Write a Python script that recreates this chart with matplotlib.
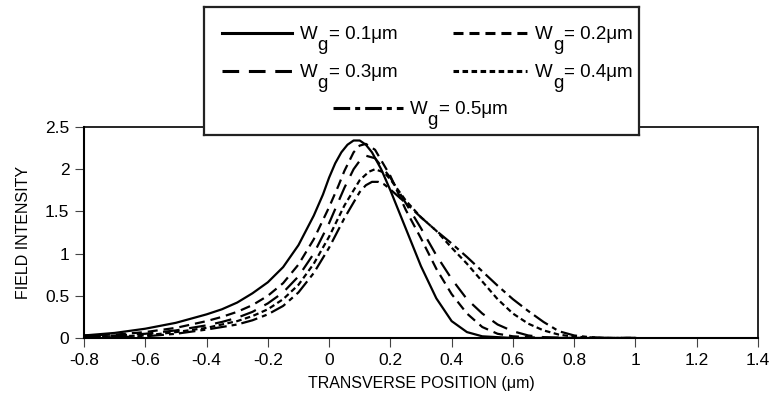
import matplotlib
matplotlib.use("Agg")
import matplotlib.pyplot as plt
from matplotlib.lines import Line2D

plt.rcParams['font.family'] = ['Liberation Sans', 'DejaVu Sans']
plt.rcParams['axes.unicode_minus'] = False
plt.rcParams['lines.scale_dashes'] = False

# ---- data ----
x01 = [-0.8, -0.7, -0.6, -0.5, -0.4, -0.35, -0.3, -0.25, -0.2, -0.15, -0.1, -0.05, -0.02, 0.0, 0.02, 0.04,
       0.06, 0.08, 0.1, 0.12, 0.14, 0.17, 0.2, 0.25, 0.3, 0.35, 0.4, 0.45, 0.5, 0.6, 0.8, 1.0]
y01 = [0.03, 0.06, 0.11, 0.18, 0.28, 0.34, 0.42, 0.53, 0.66, 0.84, 1.1, 1.45, 1.7, 1.9, 2.07, 2.2,
       2.29, 2.34, 2.34, 2.29, 2.2, 2.0, 1.75, 1.3, 0.85, 0.47, 0.2, 0.07, 0.02, 0.0, 0.0, 0.0]

x02 = [-0.8, -0.7, -0.6, -0.5, -0.4, -0.35, -0.3, -0.25, -0.2, -0.15, -0.1, -0.05, 0.0, 0.03, 0.05, 0.08,
       0.1, 0.12, 0.15, 0.2, 0.25, 0.3, 0.35, 0.4, 0.45, 0.5, 0.55, 0.6, 0.7, 1.0]
y02 = [0.03, 0.04, 0.07, 0.12, 0.2, 0.25, 0.31, 0.39, 0.5, 0.65, 0.87, 1.17, 1.55, 1.8, 1.98, 2.2,
       2.28, 2.3, 2.23, 1.92, 1.52, 1.18, 0.82, 0.52, 0.29, 0.13, 0.05, 0.02, 0.0, 0.0]

x03 = [-0.8, -0.7, -0.6, -0.5, -0.4, -0.35, -0.3, -0.25, -0.2, -0.15, -0.1, -0.05, 0.0, 0.05, 0.08, 0.1,
       0.12, 0.15, 0.2, 0.25, 0.3, 0.35, 0.4, 0.45, 0.5, 0.55, 0.6, 0.65, 0.7, 0.8, 1.0]
y03 = [0.02, 0.03, 0.05, 0.09, 0.15, 0.19, 0.24, 0.31, 0.41, 0.54, 0.73, 1.0, 1.36, 1.78, 2.0, 2.1,
       2.16, 2.13, 1.9, 1.6, 1.3, 0.98, 0.7, 0.46, 0.29, 0.16, 0.08, 0.03, 0.01, 0.0, 0.0]

x04 = [-0.8, -0.7, -0.6, -0.5, -0.4, -0.35, -0.3, -0.25, -0.2, -0.15, -0.1, -0.05, 0.0, 0.05, 0.1, 0.13,
       0.15, 0.18, 0.2, 0.25, 0.3, 0.35, 0.4, 0.45, 0.5, 0.55, 0.6, 0.65, 0.7, 0.75, 0.8, 0.9, 1.0]
y04 = [0.01, 0.02, 0.03, 0.07, 0.12, 0.16, 0.2, 0.26, 0.34, 0.46, 0.63, 0.88, 1.2, 1.57, 1.87, 1.97,
       2.0, 1.96, 1.88, 1.63, 1.43, 1.27, 1.07, 0.88, 0.67, 0.46, 0.29, 0.17, 0.09, 0.04, 0.015, 0.0, 0.0]

x05 = [-0.8, -0.7, -0.6, -0.5, -0.4, -0.35, -0.3, -0.25, -0.2, -0.15, -0.1, -0.05, 0.0, 0.05, 0.1, 0.12,
       0.14, 0.16, 0.18, 0.2, 0.25, 0.3, 0.35, 0.4, 0.45, 0.5, 0.55, 0.6, 0.65, 0.7, 0.75, 0.8, 0.85, 0.9, 1.0]
y05 = [0.01, 0.01, 0.02, 0.05, 0.1, 0.13, 0.16, 0.21, 0.28, 0.38, 0.54, 0.77, 1.07, 1.42, 1.73, 1.81,
       1.85, 1.85, 1.82, 1.76, 1.6, 1.43, 1.27, 1.12, 0.96, 0.79, 0.62, 0.46, 0.32, 0.19, 0.08, 0.03, 0.01, 0.0, 0.0]

labels = ['0.1', '0.2', '0.3', '0.4', '0.5']
xticks = [-0.8, -0.6, -0.4, -0.2, 0, 0.2, 0.4, 0.6, 0.8, 1, 1.2, 1.4]
xticklabels = ['-0.8', '-0.6', '-0.4', '-0.2', '0', '0.2', '0.4', '0.6', '0.8', '1', '1.2', '1.4']
yticks = [0, 0.5, 1, 1.5, 2, 2.5]
yticklabels = ['0', '0.5', '1', '1.5', '2', '2.5']

# dash patterns (points)
styles = [
    dict(linestyle='-'),
    dict(linestyle=(0, (7.2, 4.3))),
    dict(linestyle=(0, (12.0, 7.0))),
    dict(linestyle=(0, (4.0, 2.5))),
    dict(linestyle=(0, (12.0, 3.6, 3.6, 3.6))),
]

W, H = 773, 408
fig = plt.figure(figsize=(W / 100, H / 100), dpi=100)

L, R, T, B = 84, 758, 127, 338
ax = fig.add_axes([L / W, 1 - B / H, (R - L) / W, (B - T) / H])

series = [(x01, y01), (x02, y02), (x03, y03), (x04, y04), (x05, y05)]
for (xs, ys), st in zip(series, styles):
    ax.plot(xs, ys, color='black', lw=1.6, **st)

ax.set_xlim(-0.8, 1.4)
ax.set_ylim(0, 2.5)
ax.set_xticks(xticks)
ax.set_xticklabels(xticklabels)
ax.set_yticks(yticks)
ax.set_yticklabels(yticklabels)
ax.tick_params(axis='both', direction='out', length=6.5, width=0.8, color='#444444',
               labelsize=12.5, pad=4)
for s in ['left', 'bottom']:
    ax.spines[s].set_linewidth(1.5)
for s in ['top', 'right']:
    ax.spines[s].set_linewidth(1.2)

ax.set_xlabel('TRANSVERSE POSITION (μm)', fontsize=11.5, labelpad=6)
ax.set_ylabel('FIELD INTENSITY', fontsize=11.5, labelpad=10)

# ---- custom legend box ----
LL, LR, LT, LB = 204, 639, 7, 135
lax = fig.add_axes([LL / W, 1 - LB / H, (LR - LL) / W, (LB - LT) / H])
lax.set_xlim(LL, LR)
lax.set_ylim(LB, LT)
lax.set_facecolor('white')
for s in lax.spines.values():
    s.set_linewidth(1.6)
    s.set_color('#222222')
lax.set_xticks([])
lax.set_yticks([])

entries = [  # (handle x0, handle x1, line y, text x)
    (222, 292, 33, 300),
    (453, 527, 33, 535),
    (222, 292, 71, 300),
    (453, 527, 71, 535),
    (333, 403, 108, 410),
]
fig.canvas.draw()
renderer = fig.canvas.get_renderer()
fs = 13.5
for (hx0, hx1, ly, tx), st, lab in zip(entries, styles, labels):
    lax.add_line(Line2D([hx0, hx1], [ly, ly], color='black', lw=2.2, **st))
    base = ly + 6
    tW = lax.text(tx, base, 'W', fontsize=fs, va='baseline', ha='left')
    bb = tW.get_window_extent(renderer=renderer)
    inv = lax.transData.inverted()
    xr = inv.transform((bb.x1, bb.y0))[0]
    lax.text(xr, base + 11, 'g', fontsize=fs, va='baseline', ha='left')
    lax.text(xr + 11, base, '= ' + lab + 'μm', fontsize=fs, va='baseline', ha='left')

fig.savefig('out.png', dpi=100)
